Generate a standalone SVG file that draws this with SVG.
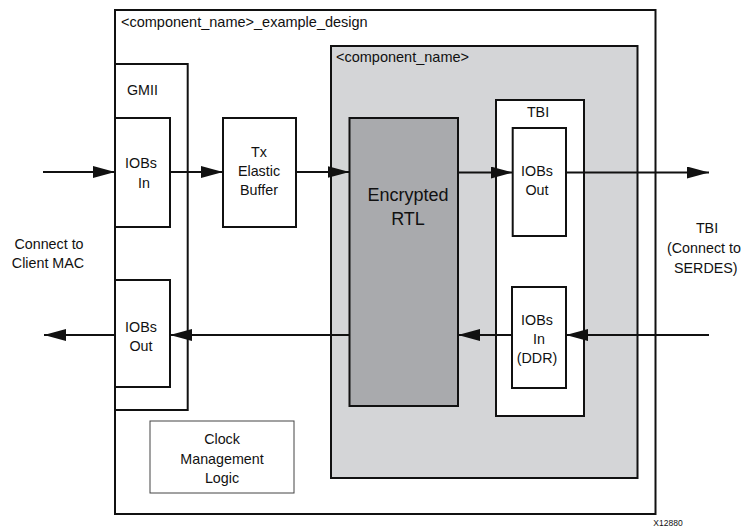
<svg xmlns="http://www.w3.org/2000/svg" width="743" height="527" viewBox="0 0 743 527">
<defs>
<style>
.box{fill:#fff;stroke:#111;stroke-width:2}
.thin{fill:#fff;stroke:#444;stroke-width:1}
.gray{fill:#d4d5d7;stroke:#111;stroke-width:2}
.enc{fill:#a9aaad;stroke:#111;stroke-width:2}
.t{font-family:"Liberation Sans",Arial,sans-serif;font-size:14.3px;fill:#111}
.c{text-anchor:middle}
.big{font-size:18px}
.ln{stroke:#111;stroke-width:2;fill:none;marker-end:url(#ah)}
</style>
<marker id="ah" viewBox="0 0 22 12" refX="22" refY="6" markerWidth="22" markerHeight="12" markerUnits="userSpaceOnUse" orient="auto">
<path d="M0,0 L22,6 L0,12 Z" fill="#111"/>
</marker>
</defs>
<g id="example_design">
<rect class="box" x="115" y="10" width="540.5" height="504"/>
<text class="t" x="121" y="27" style="font-size:14.5px">&lt;component_name&gt;_example_design</text>
</g>
<g id="gmii">
<rect class="box" x="115" y="64" width="72.7" height="346"/>
<text class="t" x="127" y="95">GMII</text>
</g>
<g id="iobs_in_gmii">
<rect class="box" x="115" y="118" width="55" height="109"/>
<text class="t c" x="141" y="168">IOBs</text>
<text class="t c" x="144" y="188">In</text>
</g>
<g id="iobs_out_gmii">
<rect class="box" x="115" y="280" width="55" height="107"/>
<text class="t c" x="141" y="332">IOBs</text>
<text class="t c" x="141" y="351">Out</text>
</g>
<g id="tx_buffer">
<rect class="box" x="223" y="118" width="73" height="109"/>
<text class="t c" x="259" y="157">Tx</text>
<text class="t c" x="259" y="176">Elastic</text>
<text class="t c" x="259" y="195">Buffer</text>
</g>
<g id="clock">
<rect class="thin" x="150" y="421" width="144" height="72"/>
<text class="t c" x="222" y="444">Clock</text>
<text class="t c" x="222" y="464">Management</text>
<text class="t c" x="222" y="483">Logic</text>
</g>
<g id="component">
<rect class="gray" x="331" y="46" width="306.5" height="432"/>
<text class="t" x="336" y="62" style="font-size:14.5px">&lt;component_name&gt;</text>
</g>
<g id="encrypted_rtl">
<rect class="enc" x="349.5" y="118" width="108.5" height="288"/>
<text class="t c big" x="408" y="201">Encrypted</text>
<text class="t c big" x="408" y="225">RTL</text>
</g>
<g id="tbi">
<rect class="box" x="496" y="100" width="88" height="316"/>
<text class="t c" x="538" y="117">TBI</text>
</g>
<g id="iobs_out_tbi">
<rect class="box" x="512.7" y="128" width="53.3" height="108"/>
<text class="t c" x="537" y="176">IOBs</text>
<text class="t c" x="537" y="195">Out</text>
</g>
<g id="iobs_in_tbi">
<rect class="box" x="512" y="287" width="54" height="101"/>
<text class="t c" x="537" y="325">IOBs</text>
<text class="t c" x="539" y="344">In</text>
<text class="t c" x="537" y="363">(DDR)</text>
</g>
<g id="client_mac_label">
<text class="t c" x="49" y="249">Connect to</text>
<text class="t c" x="48" y="268">Client MAC</text>
</g>
<g id="serdes_label">
<text class="t c" x="707" y="233">TBI</text>
<text class="t" x="667" y="253">(Connect to</text>
<text class="t" x="674" y="273">SERDES)</text>
</g>
<g id="connectors">
<line class="ln" x1="43" y1="172" x2="115" y2="172"/>
<line class="ln" x1="170" y1="172" x2="223" y2="172"/>
<line class="ln" x1="296" y1="172" x2="349.5" y2="172"/>
<line class="ln" x1="458" y1="172.5" x2="512.7" y2="172.5"/>
<line class="ln" x1="566" y1="172.5" x2="709" y2="172.5"/>
<line class="ln" x1="709" y1="335" x2="566" y2="335"/>
<line class="ln" x1="512" y1="335" x2="458" y2="335"/>
<line class="ln" x1="349.5" y1="335" x2="170" y2="335"/>
<line class="ln" x1="115" y1="335" x2="44" y2="335"/>
</g>
<text class="t c" x="668" y="525.5" style="font-size:8.5px">X12880</text>
</svg>
